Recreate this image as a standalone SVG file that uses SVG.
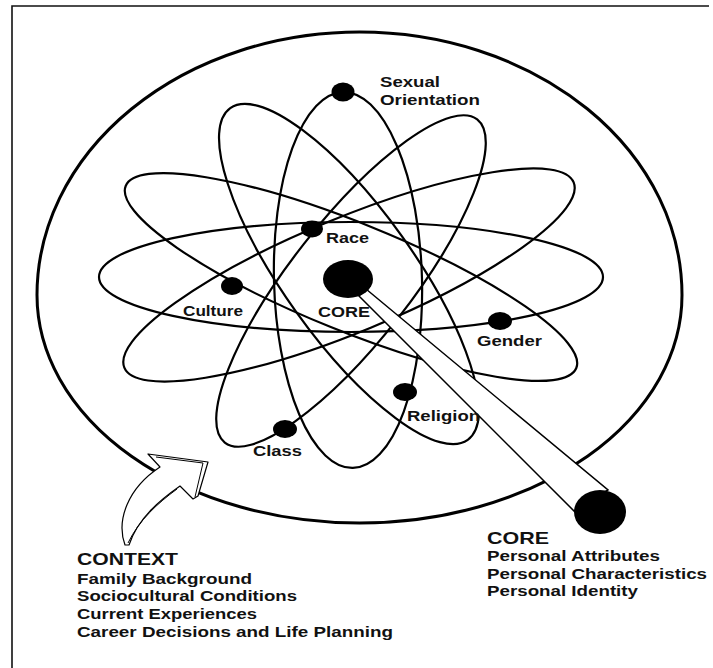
<svg xmlns="http://www.w3.org/2000/svg" width="713" height="668" viewBox="0 0 713 668">
<style>
.orb{fill:none;stroke:#000;stroke-width:2.2}
.dot{fill:#000}
.lbl{font-family:"Liberation Sans",Arial,sans-serif;font-weight:bold;font-size:15px;fill:#111}
.hd{font-family:"Liberation Sans",Arial,sans-serif;font-weight:bold;font-size:16.5px;fill:#111}
</style>
<rect width="713" height="668" fill="#fff"/>
<g id="frame" fill="none" stroke="#111" stroke-width="1.6">
<path d="M12,668 V6 H709"/>
</g>
<g id="context-ellipse">
<path d="M37,295 A322.5,263 0 0 1 682,295 A322.5,228 0 0 1 37,295 Z" fill="none" stroke="#000" stroke-width="3"/>
</g>
<g id="orbits">
<ellipse class="orb" cx="351" cy="277" rx="252" ry="55"/>
<ellipse class="orb" cx="348" cy="280" rx="74" ry="188" transform="rotate(-1.5 348 280)"/>
<ellipse class="orb" cx="351" cy="277" rx="243" ry="54" transform="rotate(22 351 277)"/>
<ellipse class="orb" cx="349" cy="275" rx="243" ry="57" transform="rotate(-22.4 349 275)"/>
<ellipse class="orb" cx="349" cy="274" rx="204" ry="65" transform="rotate(54.4 349 274)"/>
<ellipse class="orb" cx="351" cy="281" rx="205" ry="60" transform="rotate(-52 351 281)"/>
</g>
<g id="connectors">
<polygon points="366,289 608,490 574,511 359,296" fill="#fff" stroke="#000" stroke-width="1.5"/>
</g>
<g id="node-sexual-orientation">
<ellipse class="dot" cx="343" cy="92" rx="11.5" ry="9.5"/>
<text class="lbl" x="380" y="87" textLength="60" lengthAdjust="spacingAndGlyphs">Sexual</text>
<text class="lbl" x="380" y="105" textLength="100" lengthAdjust="spacingAndGlyphs">Orientation</text>
</g>
<g id="node-race">
<ellipse class="dot" cx="312" cy="229" rx="11" ry="8.5"/>
<text class="lbl" x="326" y="243" textLength="43" lengthAdjust="spacingAndGlyphs">Race</text>
</g>
<g id="node-culture">
<ellipse class="dot" cx="232" cy="286" rx="11" ry="9"/>
<text class="lbl" x="183" y="316" textLength="60" lengthAdjust="spacingAndGlyphs">Culture</text>
</g>
<g id="node-core">
<ellipse class="dot" cx="348" cy="279" rx="25" ry="19"/>
<text class="lbl" x="318" y="317" textLength="52" lengthAdjust="spacingAndGlyphs">CORE</text>
</g>
<g id="node-gender">
<ellipse class="dot" cx="500" cy="321" rx="12" ry="9"/>
<text class="lbl" x="477" y="346" textLength="65" lengthAdjust="spacingAndGlyphs">Gender</text>
</g>
<g id="node-religion">
<ellipse class="dot" cx="405" cy="392" rx="12" ry="9"/>
<text class="lbl" x="407" y="421" textLength="73" lengthAdjust="spacingAndGlyphs">Religion</text>
</g>
<g id="node-class">
<ellipse class="dot" cx="285" cy="429" rx="12" ry="9"/>
<text class="lbl" x="253" y="456" textLength="49" lengthAdjust="spacingAndGlyphs">Class</text>
</g>
<g id="node-core-detail">
<ellipse class="dot" cx="600" cy="512" rx="26" ry="22"/>
<text class="hd" x="487" y="544" textLength="62" lengthAdjust="spacingAndGlyphs">CORE</text>
<text class="lbl" x="487" y="561" textLength="173" lengthAdjust="spacingAndGlyphs">Personal Attributes</text>
<text class="lbl" x="487" y="578.5" textLength="220" lengthAdjust="spacingAndGlyphs">Personal Characteristics</text>
<text class="lbl" x="487" y="596" textLength="151" lengthAdjust="spacingAndGlyphs">Personal Identity</text>
</g>
<g id="node-context">
<g fill="#fff" stroke="#000" stroke-width="1.2" stroke-linejoin="round">
<path d="M148,454 L208,462 L198,496 L193,499 L180,486 C160,500 138,518 129,545 L125,545 C116,520 128,488 160,467 Z"/>
</g>
<g fill="none" stroke="#000" stroke-width="1">
<path d="M156,457 L203,463 L195,497"/>
<path d="M177,489 C158,503 139,520 128,543"/>
</g>
<text class="hd" x="77" y="565" textLength="101" lengthAdjust="spacingAndGlyphs">CONTEXT</text>
<text class="lbl" x="77" y="584" textLength="175" lengthAdjust="spacingAndGlyphs">Family Background</text>
<text class="lbl" x="77" y="601" textLength="220" lengthAdjust="spacingAndGlyphs">Sociocultural Conditions</text>
<text class="lbl" x="77" y="618.5" textLength="180" lengthAdjust="spacingAndGlyphs">Current Experiences</text>
<text class="lbl" x="77" y="636.5" textLength="316" lengthAdjust="spacingAndGlyphs">Career Decisions and Life Planning</text>
</g>
</svg>
